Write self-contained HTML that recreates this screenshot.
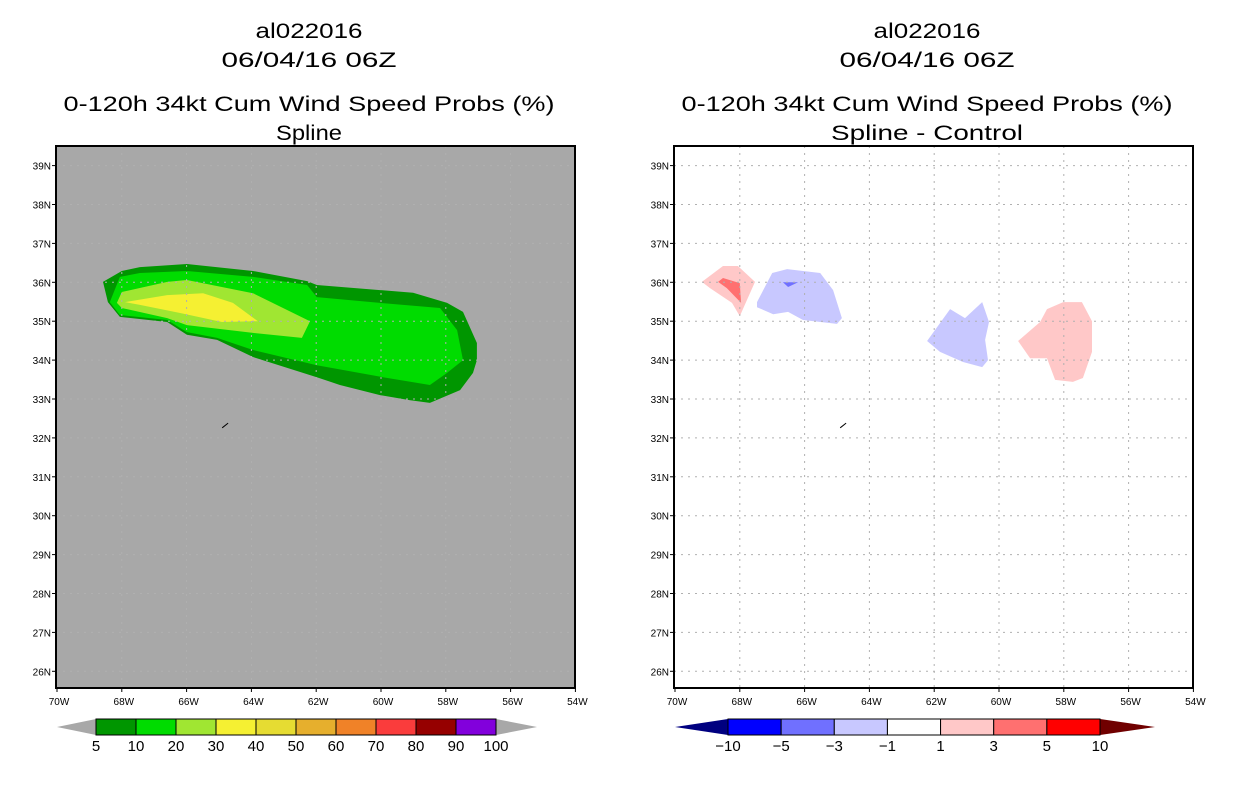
<!DOCTYPE html>
<html><head><meta charset="utf-8"><style>
body{margin:0;background:#fff;}
svg text{font-family:"Liberation Sans",sans-serif;}
</style></head><body>
<svg id="s" width="1236" height="800" xmlns="http://www.w3.org/2000/svg"></svg>
<script>
// ---- data ----
const lonTicks=[-70,-68,-66,-64,-62,-60,-58,-56,-54];
const lonLabels=["70W","68W","66W","64W","62W","60W","58W","56W","54W"];
const latTicks=[26,27,28,29,30,31,32,33,34,35,36,37,38,39];
const latLabels=["26N","27N","28N","29N","30N","31N","32N","33N","34N","35N","36N","37N","38N","39N"];
const probLevels=["5","10","20","30","40","50","60","70","80","90","100"];
const probColors=["#009600","#00dc00","#a0e632","#f5f032","#e6dc32","#e6af2d","#f08228","#fa3c3c","#960000","#8200dc"];
const diffLevels=["-10","-5","-3","-1","1","3","5","10"];
const diffColors=["#0000ff","#7070ff","#c8c8ff","#ffffff","#ffc8c8","#ff7070","#ff0000"];
const prob5=[[-68.58,36.01],[-68.0,36.29],[-67.44,36.39],[-65.99,36.47],[-63.95,36.29],[-62.28,36.03],[-61.98,35.93],[-60.03,35.8],[-59.01,35.73],[-57.96,35.47],[-57.47,35.24],[-57.04,34.44],[-57.04,34.0],[-57.16,33.67],[-57.56,33.23],[-58.49,32.9],[-59.1,32.97],[-60.03,33.1],[-61.27,33.36],[-61.98,33.56],[-63.95,34.08],[-65.06,34.52],[-65.99,34.65],[-66.6,34.98],[-68.06,35.11],[-68.43,35.49]];
const prob10=[[-68.37,35.49],[-68.06,36.14],[-67.44,36.24],[-65.99,36.29],[-63.95,36.14],[-62.28,35.93],[-61.98,35.62],[-60.03,35.47],[-58.18,35.34],[-57.65,34.77],[-57.47,34.0],[-57.96,33.67],[-58.49,33.36],[-59.94,33.56],[-61.98,33.87],[-63.95,34.26],[-65.06,34.57],[-65.99,34.72],[-66.6,35.03],[-68.06,35.16]];
const prob20=[[-68.15,35.47],[-68.0,35.75],[-66.6,36.01],[-65.99,36.06],[-63.95,35.72],[-62.19,35.0],[-62.44,34.57],[-63.95,34.7],[-65.99,34.9],[-66.6,35.08],[-68.0,35.34]];
const prob30=[[-67.9,35.49],[-66.6,35.67],[-65.49,35.72],[-64.57,35.47],[-63.8,35.0],[-64.91,34.98],[-66.2,35.21],[-67.44,35.42]];
const diffPos1=[[-69.17,36.01],[-68.52,36.42],[-68.06,36.42],[-67.53,36.01],[-68.0,35.13],[-68.24,35.47],[-68.92,35.85]];
const diffPos3=[[-68.67,36.01],[-68.52,36.11],[-68.0,35.98],[-67.96,35.47],[-68.4,35.85]];
const diffNeg1a=[[-67.47,35.49],[-67.0,36.24],[-66.54,36.34],[-65.52,36.24],[-65.12,35.8],[-64.85,35.08],[-65.0,34.93],[-66.05,35.03],[-66.51,35.24],[-66.97,35.18],[-67.47,35.36]];
const diffNeg3=[[-66.67,36.0],[-66.2,36.0],[-66.51,35.88]];
const diffNeg1b=[[-62.22,34.49],[-61.51,35.31],[-61.05,35.08],[-60.52,35.49],[-60.31,34.98],[-60.43,34.52],[-60.34,34.0],[-60.52,33.82],[-61.11,33.95],[-61.82,34.21]];
const diffPos1b=[[-59.41,34.49],[-58.73,34.98],[-58.52,35.31],[-58.02,35.49],[-57.44,35.49],[-57.13,35.0],[-57.13,34.21],[-57.41,33.54],[-57.72,33.44],[-58.27,33.49],[-58.52,34.05],[-59.04,34.05]];
const coast=[[-64.9,32.26],[-64.72,32.38]];
// ---- layout ----
const S=document.getElementById('s'),NS="http://www.w3.org/2000/svg";
function mk(t,a,p){const e=document.createElementNS(NS,t);for(const k in a)e.setAttribute(k,a[k]);(p||S).appendChild(e);return e;}
const PW=519,PT=146,PB=688;
function xs(off){return lon=>off+1+(lon+70)*32.4;}
function ys(lat){return 282.3-(lat-36)*38.9;}
function pts(arr,X){return arr.map(p=>X(p[0]).toFixed(1)+","+ys(p[1]).toFixed(1)).join(" ");}
function panel(off,cx,sub,bg,name){
  const g=mk('g',{});
  
  
  const X=xs(off);
  const r=mk('rect',{x:off,y:PT,width:PW,height:PB-PT,fill:bg},g);
  
  const T=[["al022016",38,107],["06/04/16 06Z",67,175],["0-120h 34kt Cum Wind Speed Probs (%)",111,491],[sub,140,sub.length>8?192:66]];
  T.forEach((t,i)=>{const e=mk('text',{x:cx,y:t[1],'text-anchor':'middle','font-size':21,textLength:t[2],lengthAdjust:'spacingAndGlyphs'},g);e.textContent=t[0];
    });
  return {g,X};
}
function axes(P,off){
  const g=P.g,X=P.X;
  lonTicks.forEach((l,i)=>{const x=X(l);
    if(i>0&&i<lonTicks.length-1)mk('line',{x1:x,x2:x,y1:PT,y2:PB,stroke:'#b0b0b0','stroke-dasharray':'2,5'},g);
    mk('line',{x1:x,x2:x,y1:PB,y2:PB+4,stroke:'#000'},g);
    const t=mk('text',{x:x+2,y:PB+17,'text-anchor':'middle','font-size':10},g);t.textContent=lonLabels[i];
    });
  latTicks.forEach((l,i)=>{const y=ys(l);
    mk('line',{x1:off,x2:off+PW,y1:y,y2:y,stroke:'#b0b0b0','stroke-dasharray':'2,5'},g);
    mk('line',{x1:off-4,x2:off,y1:y,y2:y,stroke:'#000'},g);
    const t=mk('text',{x:off-5,y:y+4,'text-anchor':'end','font-size':10},g);t.textContent=latLabels[i];
    });
  mk('polyline',{points:pts(coast,X),stroke:'#000',fill:'none','stroke-width':1},g);
  const f=mk('rect',{x:off,y:PT,width:PW,height:PB-PT,fill:'none',stroke:'#000','stroke-width':2},g);
  
}
function poly(P,arr,fill,name){const e=mk('polygon',{points:pts(arr,P.X),fill:fill},P.g);
  }
// left
const L=panel(56,309,"Spline","#a8a8a8",'left-panel');
poly(L,prob5,probColors[0],'contour-5');poly(L,prob10,probColors[1],'contour-10');
poly(L,prob20,probColors[2],'contour-20');poly(L,prob30,probColors[3],'contour-30');
axes(L,56);
// right
const R=panel(674,927,"Spline - Control","#ffffff",'right-panel');
poly(R,diffPos1,diffColors[4],'diff-pos-1');poly(R,diffPos3,diffColors[5],'diff-pos-3');
poly(R,diffNeg1a,diffColors[2],'diff-neg-1');poly(R,diffNeg3,diffColors[1],'diff-neg-3');
poly(R,diffNeg1b,diffColors[2],'diff-neg-1b');poly(R,diffPos1b,diffColors[4],'diff-pos-1b');
axes(R,674);
// colorbars
function cbar(x0,w,cols,labs,lt,rt,lc,rc,name){
  const g=mk('g',{});
  const y0=719,y1=735,ym=727,n=cols.length,bw=w/n;
  mk('polygon',{points:`${x0},${y0} ${x0},${y1} ${lt},${ym}`,fill:lc},g);
  mk('polygon',{points:`${x0+w},${y0} ${x0+w},${y1} ${rt},${ym}`,fill:rc},g);
  cols.forEach((c,i)=>{const r=mk('rect',{x:x0+i*bw,y:y0,width:bw,height:y1-y0,fill:c,stroke:'#000','stroke-width':1},g);
    });
  labs.forEach((l,i)=>{const t=mk('text',{x:x0+i*bw,y:751,'text-anchor':'middle','font-size':15},g);t.textContent=l.replace('-','\u2212');
    });
}
cbar(96,400,probColors,probLevels,57,537,'#a8a8a8','#a8a8a8','prob-colorbar');
cbar(728,372,diffColors,diffLevels,675,1155,'#000080','#700000','diff-colorbar');
</script>
</body></html>
